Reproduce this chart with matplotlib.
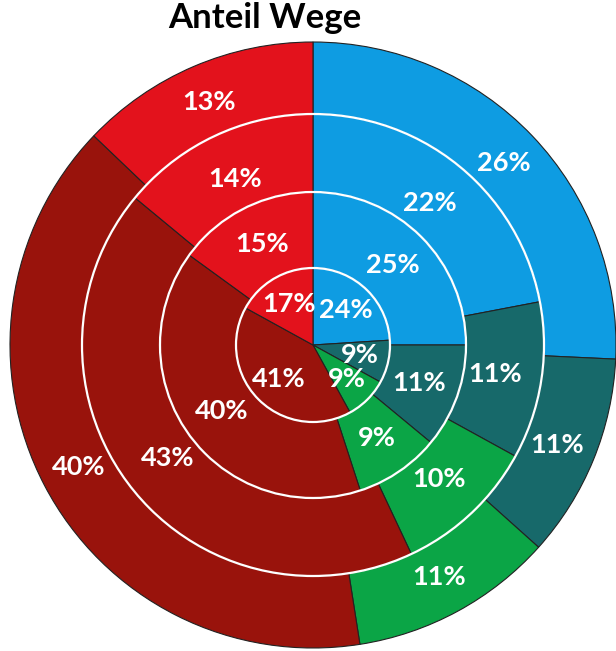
import numpy as np
import matplotlib.pyplot as plt
from matplotlib.patches import Circle

# categories clockwise from 12 o'clock; rings from inner to outer
colors = ['#0E9CE2', '#17696A', '#0BA546', '#99130C', '#E3121C']
ring1 = [24, 9, 9, 41, 17]
ring2 = [25, 11, 9, 40, 15]
ring3 = [22, 11, 10, 43, 14]
ring4 = [26, 11, 11, 40, 13]
rings = [ring1, ring2, ring3, ring4]
title = 'Anteil Wege'

plt.rcParams['font.family'] = ['Lato', 'DejaVu Sans']

fig = plt.figure(figsize=(6.16, 6.51), dpi=100)
ax = fig.add_axes([0, 0, 1, 1])

cx, cy = 313, 306
radii = [77, 153, 231, 303]
label_r = [48, 113, 184, 264]

# draw largest pie first, smaller ones on top
for i in range(3, -1, -1):
    wedges, _ = ax.pie(rings[i], colors=colors, radius=radii[i], center=(cx, cy),
                       startangle=90, counterclock=False,
                       wedgeprops=dict(edgecolor='#222222', linewidth=0.8),
                       frame=True)
    for w, v in zip(wedges, rings[i]):
        mid = np.deg2rad((w.theta1 + w.theta2) / 2)
        ax.text(cx + label_r[i] * np.cos(mid), cy + label_r[i] * np.sin(mid),
                f'{v}%', color='white', fontsize=19.5, fontweight='bold',
                ha='center', va='center')

ax.set_xlim(0, 616)
ax.set_ylim(0, 651)
ax.set_aspect('equal')
ax.axis('off')

for r in radii[:3]:
    ax.add_patch(Circle((cx, cy), r, fill=False, edgecolor='white', linewidth=1.6, zorder=3))

fig.text(0.43, 0.972, title, ha='center', va='center', fontsize=25, fontweight='bold')

fig.savefig('out.png', dpi=100)
